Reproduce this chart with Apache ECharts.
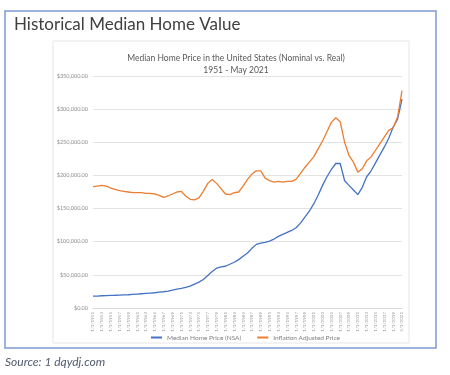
<!DOCTYPE html>
<html>
<head>
<meta charset="utf-8">
<script src="https://cdn.jsdelivr.net/npm/echarts@6/dist/echarts.min.js"></script>
<style>
  html, body { margin: 0; padding: 0; background: #fff; }
  #main { width: 450px; height: 375px; }
</style>
</head>
<body>
<div id="main"></div>
<script>
// one point per year, Jan 1951 .. May 2021
const years = [1951,1952,1953,1954,1955,1956,1957,1958,1959,1960,1961,1962,1963,1964,1965,1966,1967,1968,1969,1970,
  1971,1972,1973,1974,1975,1976,1977,1978,1979,1980,1981,1982,1983,1984,1985,1986,1987,1988,1989,1990,
  1991,1992,1993,1994,1995,1996,1997,1998,1999,2000,2001,2002,2003,2004,2005,2006,2007,2008,2009,2010,
  2011,2012,2013,2014,2015,2016,2017,2018,2019,2020,2021];

const nominal = [18000,18000,18500,18800,19000,19200,19500,19800,20000,20500,21000,21500,22000,22500,23000,23800,24500,25500,27000,28500,
  29500,31000,33000,36000,39000,43000,49000,55000,60000,62000,63000,66000,69000,73000,78000,83000,90000,96000,98000,99000,
  101000,104000,108000,111000,114000,117000,121000,128000,137000,146000,157000,170000,185000,198000,209000,218000,218000,192000,185000,178000,
  171000,182000,198000,207000,219000,231000,243000,256000,273000,285000,315000];

const real = [183000,184000,185000,184000,181000,179000,177000,176000,175000,174000,174000,174000,173000,173000,172000,170000,167000,169000,172000,175000,
  176000,169000,164000,163000,166000,176000,188000,194000,188000,180000,172000,171000,174000,175000,184000,194000,202000,207000,207000,196000,
  192000,190000,191000,190000,191000,191000,194000,203000,212000,220000,228000,240000,252000,266000,280000,287000,281000,250000,230000,220000,
  205000,210000,222000,228000,238000,248000,258000,268000,272000,288000,328000];

const categories = years.map((y, i) => (i === years.length - 1 ? '5/1/' : '1/1/') + y);

const chart = echarts.init(document.getElementById('main'));

const option = {
  animation: false,
  textStyle: { fontFamily: 'Lato' },
  title: [
    {
      text: 'Historical Median Home Value',
      left: 9, top: 11,
      textStyle: { fontFamily: 'Lato', fontSize: 17, fontWeight: 'normal', color: '#404040' }
    },
    {
      text: 'Median Home Price in the United States (Nominal vs. Real)\n1951 - May 2021',
      left: 231, top: 47, textAlign: 'center',
      textStyle: { fontFamily: 'Lato', fontSize: 8.5, fontWeight: 'normal', color: '#595959', lineHeight: 12 }
    }
  ],
  graphic: [
    { type: 'rect', shape: { x: 5, y: 11, width: 431, height: 337 }, style: { fill: 'none', stroke: '#7d9ad4', lineWidth: 1.5 }, z: -1 },
    { type: 'rect', shape: { x: 53, y: 41, width: 356, height: 302 }, style: { fill: 'none', stroke: '#e6e6e6', lineWidth: 1 }, z: -1 },
    { type: 'text', left: 5, top: 356, style: { text: 'Source: 1 dqydj.com', fontFamily: 'Lato', fontStyle: 'italic', fontSize: 12, fill: '#4f5b6c' } }
  ],
  legend: {
    top: 329, left: 146,
    itemWidth: 11, itemHeight: 2, itemGap: 16,
    icon: 'rect',
    textStyle: { fontSize: 6.5, color: '#808080' },
    data: ['Median Home Price (NSA)', 'Inflation Adjusted Price']
  },
  grid: { left: 93, right: 48, top: 76, bottom: 67 },
  xAxis: {
    type: 'category',
    data: categories,
    boundaryGap: false,
    axisLine: { lineStyle: { color: '#d9d9d9' } },
    axisTick: { show: false },
    axisLabel: { rotate: 90, interval: 1, fontSize: 4.5, color: '#9a9a9a', margin: 4 }
  },
  yAxis: {
    type: 'value',
    min: 0, max: 350000, interval: 50000,
    axisLine: { show: false },
    axisTick: { show: false },
    splitLine: { lineStyle: { color: '#e3e3e3', width: 1 } },
    axisLabel: {
      fontSize: 5.5, color: '#8c8c8c', margin: 5,
      formatter: v => '$' + v.toLocaleString('en-US', { minimumFractionDigits: 2, maximumFractionDigits: 2 })
    }
  },
  series: [
    {
      name: 'Median Home Price (NSA)', type: 'line', data: nominal,
      showSymbol: false, lineStyle: { color: '#4472c4', width: 1.3 }, itemStyle: { color: '#4472c4' }
    },
    {
      name: 'Inflation Adjusted Price', type: 'line', data: real,
      showSymbol: false, lineStyle: { color: '#ed7d31', width: 1.3 }, itemStyle: { color: '#ed7d31' }
    }
  ]
};

chart.setOption(option);
</script>
</body>
</html>
